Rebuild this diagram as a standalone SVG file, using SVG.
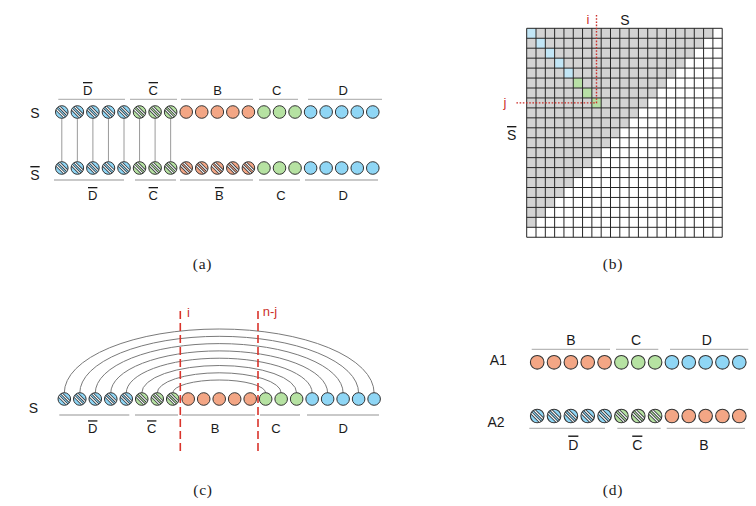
<svg xmlns="http://www.w3.org/2000/svg" xmlns:xlink="http://www.w3.org/1999/xlink" width="756" height="506" viewBox="0 0 756 506">
<style>
.lbl{font-family:"Liberation Sans",Arial,sans-serif;font-size:13px;fill:#1a1a1a;text-anchor:middle}
.big{font-size:14px}
.bar{text-decoration:overline}
.red{font-family:"Liberation Sans",Arial,sans-serif;font-size:13px;fill:#cc2f2a}
.cap{font-family:"Liberation Serif","Times New Roman",serif;font-size:15.5px;letter-spacing:0.8px;fill:#1a1a1a;text-anchor:middle}
.seg{stroke:#b8b8b8;stroke-width:1.3;fill:none}
.ob{fill:#8fd6f5;stroke:#333;stroke-width:1}
.oo{fill:#f3a685;stroke:#333;stroke-width:1}
.og{fill:#b6e2a2;stroke:#333;stroke-width:1}
.tie{stroke:#9a9a9a;stroke-width:1}
.arc{stroke:#7a7a7a;stroke-width:1;fill:none}
.dash{stroke:#d9342b;stroke-width:1.6;stroke-dasharray:8 4;fill:none}
.dot{stroke:#cc2f2a;stroke-width:1.4;stroke-dasharray:1.6 1.6;fill:none}
</style>
<defs>
<clipPath id="cc"><circle r="6.1"/></clipPath>
<g id="stripes">
<line x1="-6.66" y1="-9.34" x2="9.34" y2="6.66" stroke="#2e3338" stroke-width="2.7"/>
<line x1="-9.34" y1="-6.66" x2="6.66" y2="9.34" stroke="#2e3338" stroke-width="2.7"/>
<line x1="-6.66" y1="-9.34" x2="9.34" y2="6.66" stroke="#fff" stroke-width="1.1"/>
<line x1="-9.34" y1="-6.66" x2="6.66" y2="9.34" stroke="#fff" stroke-width="1.1"/>
</g>
<g id="sb"><circle r="6.3" fill="#8fd6f5"/><g clip-path="url(#cc)"><use href="#stripes"/></g><circle r="6.3" fill="none" stroke="#333" stroke-width="1"/></g>
<g id="sg"><circle r="6.3" fill="#b6e2a2"/><g clip-path="url(#cc)"><use href="#stripes"/></g><circle r="6.3" fill="none" stroke="#333" stroke-width="1"/></g>
<g id="so"><circle r="6.3" fill="#f3a685"/><g clip-path="url(#cc)"><use href="#stripes"/></g><circle r="6.3" fill="none" stroke="#333" stroke-width="1"/></g>
<circle id="pb" r="6.3" class="ob"/>
<circle id="po" r="6.3" class="oo"/>
<circle id="pg" r="6.3" class="og"/>
</defs>
<rect width="756" height="506" fill="#fff"/>

<!-- ===== Panel (a) ===== -->
<g id="a-connectors">
<line class="tie" x1="61.8" y1="118" x2="61.8" y2="162"/>
<line class="tie" x1="77.35" y1="118" x2="77.35" y2="162"/>
<line class="tie" x1="92.9" y1="118" x2="92.9" y2="162"/>
<line class="tie" x1="108.45" y1="118" x2="108.45" y2="162"/>
<line class="tie" x1="124" y1="118" x2="124" y2="162"/>
<line class="tie" x1="139.55" y1="118" x2="139.55" y2="162"/>
<line class="tie" x1="155.1" y1="118" x2="155.1" y2="162"/>
<line class="tie" x1="170.65" y1="118" x2="170.65" y2="162"/>
</g>
<g id="a-labels">
<text class="lbl big" x="35" y="118">S</text>
<text class="lbl big bar" x="35" y="180">S</text>
<text class="lbl bar" x="87.7" y="95">D</text>
<text class="lbl bar" x="153.3" y="95">C</text>
<text class="lbl" x="217.7" y="95">B</text>
<text class="lbl" x="276.7" y="95">C</text>
<text class="lbl" x="343.3" y="95">D</text>
<path class="seg" d="M58.3 99.3H125M130 99.3H177M181 99.3H253M259 99.3H298M308 99.3H382"/>
<path class="seg" d="M54 180H124M135 180H176M180 180H253M259 180H300M305 180H378"/>
<text class="lbl bar" x="92.7" y="200">D</text>
<text class="lbl bar" x="153.3" y="200">C</text>
<text class="lbl bar" x="219.3" y="200">B</text>
<text class="lbl" x="281" y="200">C</text>
<text class="lbl" x="343.3" y="200">D</text>
</g>
<g id="a-S">
<use href="#sb" x="61.8" y="112"/><use href="#sb" x="77.35" y="112"/><use href="#sb" x="92.9" y="112"/><use href="#sb" x="108.45" y="112"/><use href="#sb" x="124" y="112"/>
<use href="#sg" x="139.55" y="112"/><use href="#sg" x="155.1" y="112"/><use href="#sg" x="170.65" y="112"/>
<use href="#po" x="186.2" y="112"/><use href="#po" x="201.75" y="112"/><use href="#po" x="217.3" y="112"/><use href="#po" x="232.85" y="112"/><use href="#po" x="248.4" y="112"/>
<use href="#pg" x="263.95" y="112"/><use href="#pg" x="279.5" y="112"/><use href="#pg" x="295.05" y="112"/>
<use href="#pb" x="310.6" y="112"/><use href="#pb" x="326.15" y="112"/><use href="#pb" x="341.7" y="112"/><use href="#pb" x="357.25" y="112"/><use href="#pb" x="372.8" y="112"/>
</g>
<g id="a-Sbar">
<use href="#sb" x="61.8" y="168"/><use href="#sb" x="77.35" y="168"/><use href="#sb" x="92.9" y="168"/><use href="#sb" x="108.45" y="168"/><use href="#sb" x="124" y="168"/>
<use href="#sg" x="139.55" y="168"/><use href="#sg" x="155.1" y="168"/><use href="#sg" x="170.65" y="168"/>
<use href="#so" x="186.2" y="168"/><use href="#so" x="201.75" y="168"/><use href="#so" x="217.3" y="168"/><use href="#so" x="232.85" y="168"/><use href="#so" x="248.4" y="168"/>
<use href="#pg" x="263.95" y="168"/><use href="#pg" x="279.5" y="168"/><use href="#pg" x="295.05" y="168"/>
<use href="#pb" x="310.6" y="168"/><use href="#pb" x="326.15" y="168"/><use href="#pb" x="341.7" y="168"/><use href="#pb" x="357.25" y="168"/><use href="#pb" x="372.8" y="168"/>
</g>
<text class="cap" x="202.5" y="269">(a)</text>

<!-- ===== Panel (b) ===== -->
<g id="b-matrix">
<g transform="translate(526.7 28.3) scale(9.31 9.95)">
<rect x="0" y="0" width="21" height="21" fill="#fff"/>
<polygon fill="#d3d3d3" points="0,0 20,0 20,1 19,1 19,2 18,2 18,3 17,3 17,4 16,4 16,5 15,5 15,6 14,6 14,7 13,7 13,8 12,8 12,9 11,9 11,10 10,10 10,11 9,11 9,12 8,12 8,13 7,13 7,14 6,14 6,15 5,15 5,16 4,16 4,17 3,17 3,18 2,18 2,19 1,19 1,20 0,20"/>
<g fill="#c2e6f6"><rect x="0" y="0" width="1" height="1"/><rect x="1" y="1" width="1" height="1"/><rect x="2" y="2" width="1" height="1"/><rect x="3" y="3" width="1" height="1"/><rect x="4" y="4" width="1" height="1"/></g>
<g fill="#b8e0a6"><rect x="5" y="5" width="1" height="1"/><rect x="6" y="6" width="1" height="1"/><rect x="7" y="7" width="1" height="1"/></g>
<path vector-effect="non-scaling-stroke" stroke="#262626" stroke-width="1" fill="none" d="M0 0H21M0 1H21M0 2H21M0 3H21M0 4H21M0 5H21M0 6H21M0 7H21M0 8H21M0 9H21M0 10H21M0 11H21M0 12H21M0 13H21M0 14H21M0 15H21M0 16H21M0 17H21M0 18H21M0 19H21M0 20H21M0 21H21M0 0V21M1 0V21M2 0V21M3 0V21M4 0V21M5 0V21M6 0V21M7 0V21M8 0V21M9 0V21M10 0V21M11 0V21M12 0V21M13 0V21M14 0V21M15 0V21M16 0V21M17 0V21M18 0V21M19 0V21M20 0V21M21 0V21"/>
</g>
</g>
<g id="b-markers">
<path class="dot" d="M596.5 15V102.9H515"/>
<text class="red" x="586.5" y="24">i</text>
<text class="red" x="503.5" y="107">j</text>
<text class="lbl big" x="625" y="25">S</text>
<text class="lbl big bar" x="511.7" y="140">S</text>
</g>
<text class="cap" x="613" y="269">(b)</text>

<!-- ===== Panel (c) ===== -->
<g id="c-connectors">
<path class="arc" d="M64.3 393A154.9 64 0 0 1 374.1 393"/>
<path class="arc" d="M79.79 393A139.41 56.7 0 0 1 358.61 393"/>
<path class="arc" d="M95.28 393A123.92 49.4 0 0 1 343.12 393"/>
<path class="arc" d="M110.77 393A108.43 42.1 0 0 1 327.63 393"/>
<path class="arc" d="M126.26 393A92.94 34.8 0 0 1 312.14 393"/>
<path class="arc" d="M141.75 393A77.45 27.5 0 0 1 296.65 393"/>
<path class="arc" d="M157.24 393A61.96 20.2 0 0 1 281.16 393"/>
<path class="arc" d="M172.73 393A46.47 13 0 0 1 265.67 393"/>
</g>
<g id="c-S">
<use href="#sb" x="64.3" y="399"/><use href="#sb" x="79.79" y="399"/><use href="#sb" x="95.28" y="399"/><use href="#sb" x="110.77" y="399"/><use href="#sb" x="126.26" y="399"/>
<use href="#sg" x="141.75" y="399"/><use href="#sg" x="157.24" y="399"/><use href="#sg" x="172.73" y="399"/>
<use href="#po" x="188.22" y="399"/><use href="#po" x="203.71" y="399"/><use href="#po" x="219.2" y="399"/><use href="#po" x="234.69" y="399"/><use href="#po" x="250.18" y="399"/>
<use href="#pg" x="265.67" y="399"/><use href="#pg" x="281.16" y="399"/><use href="#pg" x="296.65" y="399"/>
<use href="#pb" x="312.14" y="399"/><use href="#pb" x="327.63" y="399"/><use href="#pb" x="343.12" y="399"/><use href="#pb" x="358.61" y="399"/><use href="#pb" x="374.1" y="399"/>
</g>
<g id="c-labels">
<text class="lbl big" x="33.3" y="413.3">S</text>
<path class="seg" d="M59.3 415H129.3M135 415H178M181.7 415H255M260 415H300M307 415H379"/>
<text class="lbl bar" x="92.7" y="433.3">D</text>
<text class="lbl bar" x="151.7" y="433.3">C</text>
<text class="lbl" x="215" y="433.3">B</text>
<text class="lbl" x="276" y="433.3">C</text>
<text class="lbl" x="343.3" y="433.3">D</text>
</g>
<g id="c-markers">
<path class="dash" d="M180.3 311V451M258 311V451"/>
<text class="red" x="187" y="317">i</text>
<text class="red" x="262.7" y="316">n-j</text>
</g>
<text class="cap" x="203" y="495">(c)</text>

<!-- ===== Panel (d) ===== -->
<g id="d-labels">
<text class="lbl big" x="498.3" y="365">A1</text>
<text class="lbl big" x="496" y="426.7">A2</text>
<text class="lbl big" x="571" y="345">B</text>
<text class="lbl big" x="636" y="345">C</text>
<text class="lbl big" x="706.7" y="345">D</text>
<path class="seg" d="M531.7 349.3H610M616 349.3H658.3M670 349.3H748.3"/>
<path class="seg" d="M529.3 428.3H605M617.3 428.3H660.7M666.7 428.3H745"/>
<text class="lbl big bar" x="573.3" y="449.5">D</text>
<text class="lbl big bar" x="637.3" y="449.5">C</text>
<text class="lbl big" x="704" y="449.5">B</text>
</g>
<g id="d-A1">
<use href="#po" transform="translate(537.2 362.3) scale(1.08)"/><use href="#po" transform="translate(554.04 362.3) scale(1.08)"/><use href="#po" transform="translate(570.88 362.3) scale(1.08)"/><use href="#po" transform="translate(587.72 362.3) scale(1.08)"/><use href="#po" transform="translate(604.56 362.3) scale(1.08)"/>
<use href="#pg" transform="translate(621.4 362.3) scale(1.08)"/><use href="#pg" transform="translate(638.24 362.3) scale(1.08)"/><use href="#pg" transform="translate(655.08 362.3) scale(1.08)"/>
<use href="#pb" transform="translate(671.92 362.3) scale(1.08)"/><use href="#pb" transform="translate(688.76 362.3) scale(1.08)"/><use href="#pb" transform="translate(705.6 362.3) scale(1.08)"/><use href="#pb" transform="translate(722.44 362.3) scale(1.08)"/><use href="#pb" transform="translate(739.28 362.3) scale(1.08)"/>
</g>
<g id="d-A2">
<use href="#sb" transform="translate(537.2 416) scale(1.08)"/><use href="#sb" transform="translate(554.04 416) scale(1.08)"/><use href="#sb" transform="translate(570.88 416) scale(1.08)"/><use href="#sb" transform="translate(587.72 416) scale(1.08)"/><use href="#sb" transform="translate(604.56 416) scale(1.08)"/>
<use href="#sg" transform="translate(621.4 416) scale(1.08)"/><use href="#sg" transform="translate(638.24 416) scale(1.08)"/><use href="#sg" transform="translate(655.08 416) scale(1.08)"/>
<use href="#po" transform="translate(671.92 416) scale(1.08)"/><use href="#po" transform="translate(688.76 416) scale(1.08)"/><use href="#po" transform="translate(705.6 416) scale(1.08)"/><use href="#po" transform="translate(722.44 416) scale(1.08)"/><use href="#po" transform="translate(739.28 416) scale(1.08)"/>
</g>
<text class="cap" x="613" y="495">(d)</text>
</svg>
